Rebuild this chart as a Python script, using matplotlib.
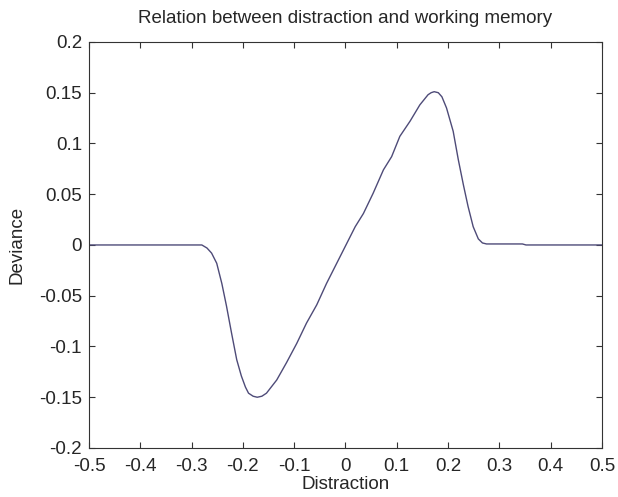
import matplotlib
matplotlib.use("Agg")
import matplotlib.pyplot as plt

plt.rcParams["font.family"] = ["Liberation Sans", "DejaVu Sans"]

distraction = [-0.5, -0.40, -0.30, -0.280, -0.270, -0.261, -0.251, -0.241, -0.232, -0.222,
               -0.212, -0.203, -0.195, -0.189, -0.180, -0.172, -0.163, -0.154, -0.134,
               -0.115, -0.095, -0.076, -0.056, -0.037, -0.017, 0.002, 0.019, 0.035,
               0.054, 0.074, 0.090, 0.106, 0.126, 0.145, 0.161, 0.167, 0.173, 0.181,
               0.188, 0.197, 0.210, 0.220, 0.230, 0.239, 0.249, 0.259, 0.267, 0.275,
               0.300, 0.345, 0.352, 0.5]
deviance = [0.0, 0.0, 0.0, 0.0, -0.003, -0.008, -0.018, -0.038, -0.060, -0.087,
            -0.113, -0.129, -0.140, -0.146, -0.149, -0.150, -0.149, -0.146, -0.133,
            -0.116, -0.097, -0.077, -0.059, -0.038, -0.018, 0.001, 0.018, 0.031,
            0.051, 0.074, 0.087, 0.107, 0.122, 0.138, 0.148, 0.150, 0.151, 0.150,
            0.146, 0.135, 0.112, 0.084, 0.059, 0.038, 0.018, 0.006, 0.002, 0.001,
            0.001, 0.001, 0.0, 0.0]

x_ticks = [-0.5, -0.4, -0.3, -0.2, -0.1, 0, 0.1, 0.2, 0.3, 0.4, 0.5]
y_ticks = [-0.2, -0.15, -0.1, -0.05, 0, 0.05, 0.1, 0.15, 0.2]

text_color = "#262626"

fig = plt.figure(figsize=(6.18, 4.97), dpi=100)
ax = fig.add_axes([0.144, 0.0986, 0.830, 0.817])

ax.plot(distraction, deviance, color="#4e4b78", linewidth=1.0)

ax.set_xlim(-0.5, 0.5)
ax.set_ylim(-0.2, 0.2)
ax.set_xticks(x_ticks)
ax.set_xticklabels([f"{v:g}" for v in x_ticks])
ax.set_yticks(y_ticks)
ax.set_yticklabels([f"{v:g}" for v in y_ticks])
ax.tick_params(direction="in", top=True, right=True, labelsize=13.5, length=4,
               width=0.8, colors="#333333", labelcolor=text_color)
ax.tick_params(axis="x", pad=7)
ax.tick_params(axis="y", pad=5)
for s in ax.spines.values():
    s.set_linewidth(0.8)
    s.set_color("#333333")

ax.set_title("Relation between distraction and working memory", fontsize=13.5,
             color=text_color, pad=14)
ax.set_xlabel("Distraction", fontsize=13.5, color=text_color, labelpad=1)
ax.set_ylabel("Deviance", fontsize=13.5, color=text_color, labelpad=10)

fig.savefig("out.png", dpi=100)
